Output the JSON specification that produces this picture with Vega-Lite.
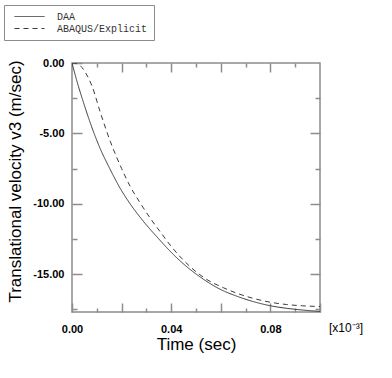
{
  "$schema": "https://vega.github.io/schema/vega-lite/v6.json",
  "width": 248,
  "height": 249,
  "autosize": "none",
  "padding": {"left": 72, "top": 63, "right": 72, "bottom": 66},
  "background": "white",
  "config": {
    "view": {"stroke": "#8c8c8c", "strokeWidth": 1.5},
    "axis": {
      "domain": false,
      "grid": false,
      "labelFlush": false,
      "labelOverlap": false,
      "tickColor": "#8c8c8c",
      "tickWidth": 1.5,
      "labelFont": "Liberation Sans",
      "labelFontWeight": "bold",
      "labelFontSize": 11,
      "labelColor": "black",
      "titleFont": "Liberation Sans",
      "titleFontSize": 17,
      "titleFontWeight": "normal",
      "titleColor": "black"
    }
  },
  "data": {
    "values": [
      {"t": 0, "v": 0, "series": "DAA"},
      {"t": 0.002, "v": -1.3, "series": "DAA"},
      {"t": 0.0047, "v": -2.85, "series": "DAA"},
      {"t": 0.0089, "v": -5.0, "series": "DAA"},
      {"t": 0.0108, "v": -5.85, "series": "DAA"},
      {"t": 0.0155, "v": -7.6, "series": "DAA"},
      {"t": 0.0194, "v": -8.9, "series": "DAA"},
      {"t": 0.0234, "v": -10.0, "series": "DAA"},
      {"t": 0.029, "v": -11.3, "series": "DAA"},
      {"t": 0.0341, "v": -12.33, "series": "DAA"},
      {"t": 0.0415, "v": -13.72, "series": "DAA"},
      {"t": 0.0456, "v": -14.38, "series": "DAA"},
      {"t": 0.052, "v": -15.25, "series": "DAA"},
      {"t": 0.0597, "v": -16.08, "series": "DAA"},
      {"t": 0.0665, "v": -16.58, "series": "DAA"},
      {"t": 0.0731, "v": -16.96, "series": "DAA"},
      {"t": 0.0798, "v": -17.25, "series": "DAA"},
      {"t": 0.0866, "v": -17.44, "series": "DAA"},
      {"t": 0.093, "v": -17.56, "series": "DAA"},
      {"t": 0.1, "v": -17.66, "series": "DAA"},
      {"t": 0, "v": 0, "series": "ABAQUS/Explicit"},
      {"t": 0.0015, "v": -0.03, "series": "ABAQUS/Explicit"},
      {"t": 0.0034, "v": -0.2, "series": "ABAQUS/Explicit"},
      {"t": 0.0055, "v": -0.7, "series": "ABAQUS/Explicit"},
      {"t": 0.0081, "v": -1.65, "series": "ABAQUS/Explicit"},
      {"t": 0.0114, "v": -3.5, "series": "ABAQUS/Explicit"},
      {"t": 0.0155, "v": -5.6, "series": "ABAQUS/Explicit"},
      {"t": 0.02, "v": -7.5, "series": "ABAQUS/Explicit"},
      {"t": 0.0234, "v": -8.75, "series": "ABAQUS/Explicit"},
      {"t": 0.0275, "v": -9.95, "series": "ABAQUS/Explicit"},
      {"t": 0.0315, "v": -11.02, "series": "ABAQUS/Explicit"},
      {"t": 0.036, "v": -12.1, "series": "ABAQUS/Explicit"},
      {"t": 0.0402, "v": -13.08, "series": "ABAQUS/Explicit"},
      {"t": 0.0442, "v": -13.88, "series": "ABAQUS/Explicit"},
      {"t": 0.0483, "v": -14.58, "series": "ABAQUS/Explicit"},
      {"t": 0.054, "v": -15.35, "series": "ABAQUS/Explicit"},
      {"t": 0.061, "v": -15.97, "series": "ABAQUS/Explicit"},
      {"t": 0.067, "v": -16.4, "series": "ABAQUS/Explicit"},
      {"t": 0.0731, "v": -16.73, "series": "ABAQUS/Explicit"},
      {"t": 0.0798, "v": -17.0, "series": "ABAQUS/Explicit"},
      {"t": 0.0866, "v": -17.17, "series": "ABAQUS/Explicit"},
      {"t": 0.093, "v": -17.26, "series": "ABAQUS/Explicit"},
      {"t": 0.1, "v": -17.31, "series": "ABAQUS/Explicit"}
    ]
  },
  "layer": [
    {
      "mark": {"type": "line", "color": "#3a3a3a", "strokeWidth": 1, "interpolate": "monotone", "clip": true},
      "encoding": {
        "x": {
          "field": "t", "type": "quantitative",
          "scale": {"domain": [0, 0.1], "nice": false, "zero": false},
          "axis": {
            "orient": "bottom",
            "values": [0, 0.02, 0.04, 0.06, 0.08, 0.1],
            "tickSize": -9,
            "format": ".2f",
            "labelExpr": "indexof(['0.00','0.04','0.08'], datum.label) >= 0 ? datum.label : ''",
            "labelPadding": 20,
            "title": "Time (sec)",
            "titlePadding": 2
          }
        },
        "y": {
          "field": "v", "type": "quantitative",
          "scale": {"domain": [-17.7, 0], "nice": false, "zero": false},
          "axis": {
            "orient": "left",
            "values": [0, -5, -10, -15],
            "tickSize": -10,
            "format": ".2f",
            "labelExpr": "replace(datum.label, '\u2212', '-')",
            "labelPadding": 18,
            "title": "Translational velocity v3 (m/sec)",
            "titlePadding": 8,
            "titleY": 118
          }
        },
        "strokeDash": {
          "field": "series", "type": "nominal",
          "scale": {"domain": ["DAA", "ABAQUS/Explicit"], "range": [[1, 0], [5, 4]]},
          "legend": {
            "orient": "none",
            "legendX": -68,
            "legendY": -58,
            "title": null,
            "symbolType": "M-3,0H3",
            "symbolSize": 100,
            "symbolStrokeColor": "#3a3a3a",
            "symbolStrokeWidth": 1,
            "symbolOffset": 14,
            "labelOffset": 22,
            "labelFont": "Liberation Mono",
            "labelFontSize": 10,
            "labelColor": "#333333",
            "padding": 6,
            "rowPadding": 1,
            "strokeColor": "#8c8c8c",
            "fillColor": "white",
            "cornerRadius": 0
          }
        }
      }
    },
    {
      "mark": {"type": "point", "opacity": 0},
      "encoding": {
        "x": {"field": "t", "type": "quantitative",
          "axis": {"orient": "bottom", "values": [0.01, 0.03, 0.05, 0.07, 0.09], "tickSize": -4, "labels": false, "title": null}},
        "y": {"field": "v", "type": "quantitative",
          "axis": {"orient": "left", "values": [-2.5, -7.5, -12.5, -17.5], "tickSize": -5, "labels": false, "title": null}}
      }
    },
    {
      "mark": {"type": "point", "opacity": 0},
      "encoding": {
        "x": {"field": "t", "type": "quantitative",
          "axis": {"orient": "top", "values": [0.02, 0.04, 0.06, 0.08], "tickSize": -9, "labels": false, "title": null}},
        "y": {"field": "v", "type": "quantitative",
          "axis": {"orient": "right", "values": [-5, -10, -15], "tickSize": -10, "labels": false, "title": null}}
      }
    },
    {
      "mark": {"type": "point", "opacity": 0},
      "encoding": {
        "x": {"field": "t", "type": "quantitative",
          "axis": {"orient": "top", "values": [0.01, 0.03, 0.05, 0.07, 0.09], "tickSize": -4, "labels": false, "title": null}},
        "y": {"field": "v", "type": "quantitative",
          "axis": {"orient": "right", "values": [-2.5, -7.5, -12.5, -17.5], "tickSize": -5, "labels": false, "title": null}}
      }
    },
    {
      "data": {"values": [{"label": "[x10⁻³]"}]},
      "mark": {"type": "text", "align": "left", "baseline": "alphabetic", "dx": 9, "dy": 20, "font": "Liberation Sans", "fontSize": 12, "color": "black"},
      "encoding": {
        "x": {"datum": 0.1, "type": "quantitative", "axis": null},
        "y": {"datum": -17.7, "type": "quantitative", "axis": null},
        "text": {"field": "label"}
      }
    }
  ],
  "resolve": {"axis": {"x": "independent", "y": "independent"}}
}
